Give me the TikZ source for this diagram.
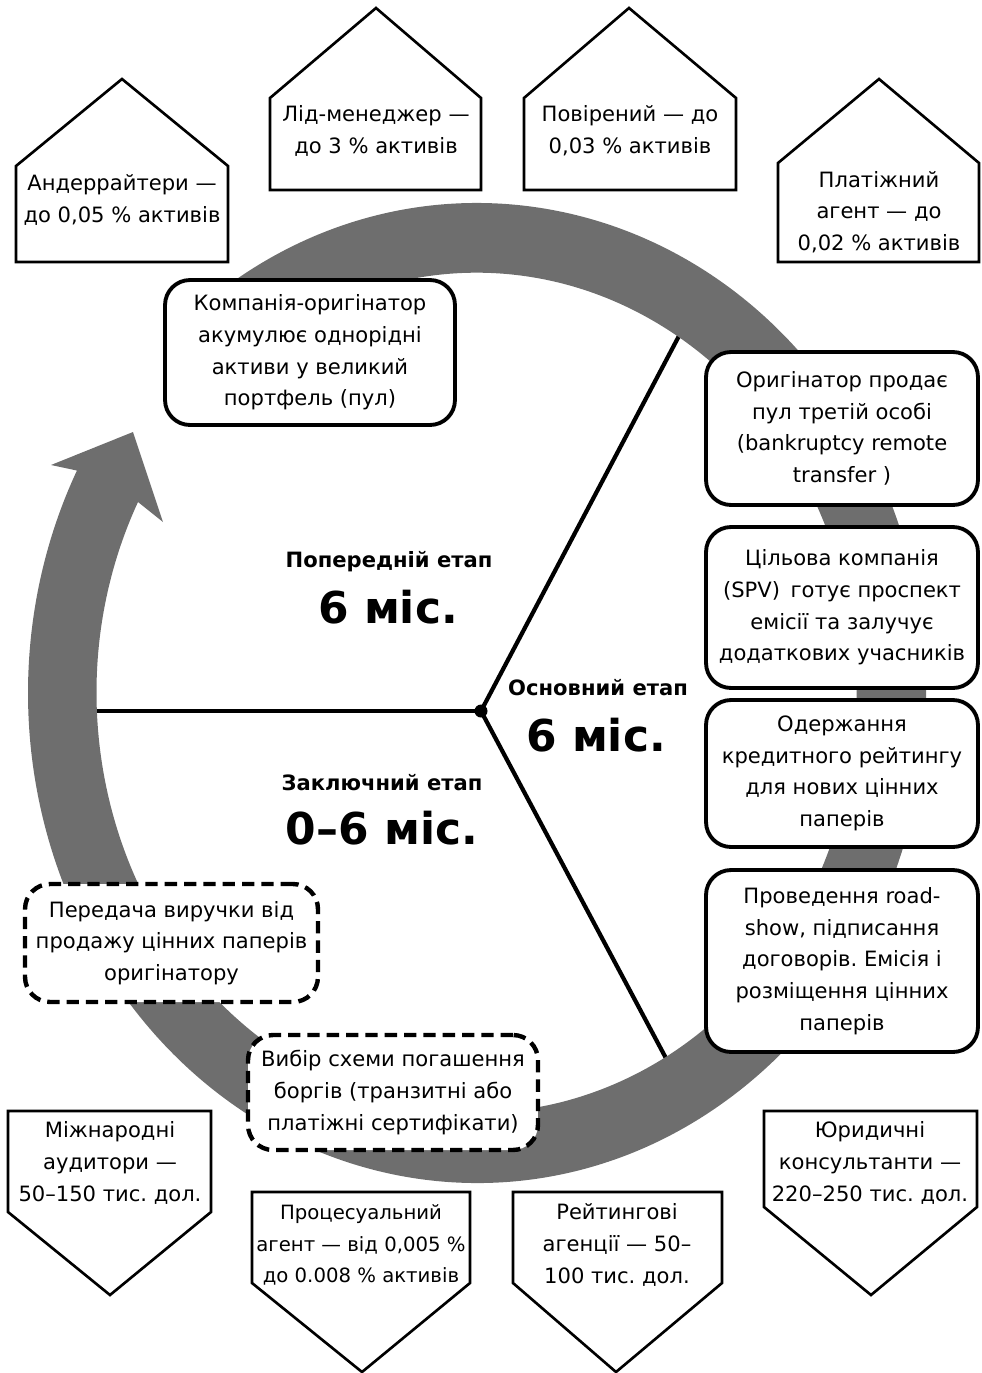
\documentclass[tikz,border=0pt]{standalone}
\usepackage{fontspec}
\setmainfont{DejaVu Sans}
\usetikzlibrary{positioning}
\definecolor{ringgray}{RGB}{110,110,110}
\frenchspacing
\tikzset{
  stagebox/.style={draw, line width=2.2pt, rounded corners=0.5cm, fill=white, align=center, inner sep=0pt},
  dashbox/.style={stagebox, dash pattern=on 7pt off 4pt, line width=2.5pt},
  feebox/.style={draw, line width=1.5pt, fill=white, line join=miter},
  feetext/.style={align=center},
  spoke/.style={line width=2.4pt},
  phase/.style={font=\bfseries\fontsize{12}{14}\selectfont},
  months/.style={font=\bfseries\fontsize{25}{29}\selectfont},
}
\begin{document}
\begin{tikzpicture}[x=0.02cm, y=-0.02cm, font=\fontsize{12}{18}\selectfont]
      \useasboundingbox (0,0) rectangle (982,1373);
      % hub and spokes
      \node[circle, fill, inner sep=0pt, minimum size=0.26cm] (hub) at (481,711) {};
      \coordinate (west) at (60,711);
      \coordinate (northeast) at (680,334);
      \coordinate (southeast) at (668,1062);
      \begin{scope}[spoke]
        \draw (hub.center) to (west);
        \draw (hub.center) to (northeast);
        \draw (hub.center) to (southeast);
      \end{scope}
      % the big ring arrow
      \fill[ringgray] (477,693) ++(-125:449 and 490)
        arc[start angle=-125, end angle=207, x radius=449, y radius=490]
        -- (51,465) -- (133,432) -- (163,522) -- (138,502)
        arc[start angle=207, end angle=-125, x radius=380, y radius=420] -- cycle;
      % stages
      \node[stagebox, minimum width=5.8cm, minimum height=2.9cm] (pool) at (310,352.5)
        {Компанія-оригінатор\\акумулює однорідні\\активи у великий\\портфель (пул)};
      \node[stagebox, minimum width=5.44cm, minimum height=3.06cm] (sell) at (842,428.5)
        {Оригінатор продає\\пул третій особі\\(bankruptcy remote\\transfer )};
      \node[stagebox, minimum width=5.44cm, minimum height=3.22cm] (spv) at (842,607.5)
        {Цільова компанія\\(SPV)\enspace готує проспект\\емісії та залучує\\додаткових учасників};
      \node[stagebox, minimum width=5.44cm, minimum height=2.94cm] (rating) at (842,773.5)
        {Одержання\\кредитного рейтингу\\для нових цінних\\паперів};
      \node[stagebox, minimum width=5.44cm, minimum height=3.64cm] (roadshow) at (842,961)
        {Проведення road-\\show, підписання\\договорів. Емісія і\\розміщення цінних\\паперів};
      \node[dashbox, minimum width=5.86cm, minimum height=2.36cm] (proceeds) at (171.5,943)
        {Передача виручки від\\продажу цінних паперів\\оригінатору};
      \node[dashbox, minimum width=5.8cm, minimum height=2.3cm] (repay) at (393,1092.5)
        {Вибір схеми погашення\\боргів (транзитні або\\платіжні сертифікати)};
      % phases
      \node[phase] (prelabel) at (389,562) {Попередній етап};
      \node[months] (premonths) at (388,607) {6 міс.};
      \node[phase] (mainlabel) at (598,688) {Основний етап};
      \node[months] (mainmonths) at (596,735) {6 міс.};
      \node[phase] (finlabel) at (382,783) {Заключний етап};
      \node[months] (finmonths) at (382,828) {0–6 міс.};
      % fees, top
      \draw[feebox] (16,262) -- (16,166) -- (122,79) -- (228,166) -- (228,262) -- cycle;
      \node[feetext] (underwriters) at (122,200) {Андеррайтери —\\до 0,05 \% активів};
      \draw[feebox] (270,190) -- (270,98) -- (376,8) -- (481,98) -- (481,190) -- cycle;
      \node[feetext] (leadmanager) at (376,131) {Лід-менеджер —\\до 3 \% активів};
      \draw[feebox] (524,190) -- (524,98) -- (629,8) -- (736,98) -- (736,190) -- cycle;
      \node[feetext] (trustee) at (630,131) {Повірений — до\\0,03 \% активів};
      \draw[feebox] (778,262) -- (778,163) -- (879,79) -- (979,163) -- (979,262) -- cycle;
      \node[feetext] (payagent) at (879,212) {Платіжний\\агент — до\\0,02 \% активів};
      % fees, bottom
      \draw[feebox] (8,1111) -- (211,1111) -- (211,1212) -- (110,1295) -- (8,1212) -- cycle;
      \node[feetext] (auditors) at (110,1163) {Міжнародні\\аудитори —\\50–150 тис. дол.};
      \draw[feebox] (252,1192) -- (470,1192) -- (470,1283) -- (362,1372) -- (252,1283) -- cycle;
      \node[feetext, font=\fontsize{11.2}{18}\selectfont] (procagent) at (361,1245)
        {Процесуальний\\агент — від 0,005 \%\\до 0.008 \% активів};
      \draw[feebox] (513,1192) -- (722,1192) -- (722,1283) -- (616,1372) -- (513,1283) -- cycle;
      \node[feetext] (agencies) at (617,1245) {Рейтингові\\агенції — 50–\\100 тис. дол.};
      \draw[feebox] (764,1111) -- (977,1111) -- (977,1207) -- (871,1295) -- (764,1207) -- cycle;
      \node[feetext] (lawyers) at (870,1163) {Юридичні\\консультанти —\\220–250 тис. дол.};
    \end{tikzpicture}
\end{document}
